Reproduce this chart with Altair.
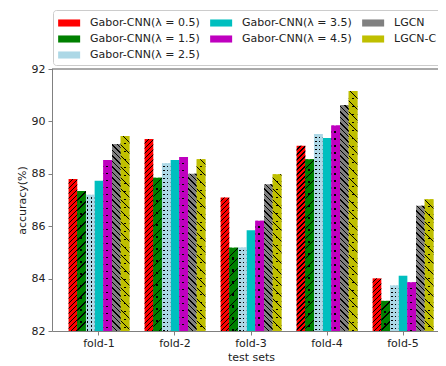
import altair as alt
import pandas as pd

folds = ["fold-1", "fold-2", "fold-3", "fold-4", "fold-5"]
methods = ["Gabor-CNN(λ = 0.5)", "Gabor-CNN(λ = 1.5)", "Gabor-CNN(λ = 2.5)",
           "Gabor-CNN(λ = 3.5)", "Gabor-CNN(λ = 4.5)", "LGCN", "LGCN-C"]
colors = ["#ff0000", "#008000", "#add8e6", "#00bfbf", "#bf00bf", "#808080", "#bfbf00"]

g05 = [87.80, 89.33, 87.10, 89.07, 84.01]
g15 = [87.34, 87.85, 85.18, 88.56, 83.15]
g25 = [87.20, 88.40, 85.19, 89.52, 83.74]
g35 = [87.73, 88.53, 85.85, 89.37, 84.11]
g45 = [88.53, 88.64, 86.21, 89.84, 83.86]
lgcn = [89.14, 88.00, 87.60, 90.63, 86.78]
lgcnc = [89.44, 88.56, 87.98, 91.16, 87.03]

# hatch styles: diagonal stripes (direction, period px) and dots (row period, size, column centres)
stripes = [("/", 5.0), ("/", 10.0), None, None, None, ("\\", 5.5), ("\\", 11.0)]
dots = [None, (12.0, 2.2, [3.8]), (4.0, 1.3, [1.9, 5.7]), None,
        (7.0, 1.4, [3.8]), None, (8.0, 1.4, [4.3])]

FONT = "DejaVu Sans"
W, H = 386, 262
RANGE_W = 398
Y0, Y1 = 82, 92
BAR_W = RANGE_W / (5 - 0.2 + 0.436) * 0.8 / 7
CLEAR = "rgba(0,0,0,0)"


def bar_height(value):
    return max((value - Y0) / (Y1 - Y0) * H, 1.0)


def periodic_stops(period, thick, base, ink):
    stops = []
    k = 0
    while k * period < 1:
        s0 = k * period
        a = min(s0 + period - thick, 1.0)
        b = min(s0 + period, 1.0)
        stops += [{"offset": s0, "color": base}, {"offset": a, "color": base},
                  {"offset": a, "color": ink}, {"offset": b, "color": ink}]
        k += 1
    return stops


def stripe_fill(value, spec):
    if spec is None:
        return CLEAR
    direction, period = spec
    w, h = BAR_W, bar_height(value)
    s_total = w + h
    c = s_total / (w * w + h * h)
    stops = periodic_stops(period / s_total, 1.4 / s_total, CLEAR, "#000000")
    if direction == "/":
        g = {"gradient": "linear", "x1": 0, "y1": 0, "x2": c * w, "y2": c * h}
    else:
        g = {"gradient": "linear", "x1": 0, "y1": 1, "x2": c * w, "y2": 1 - c * h}
    g["stops"] = stops
    return g


def dot_rows(value, spec):
    if spec is None:
        return CLEAR
    period, size, _ = spec
    h = bar_height(value)
    return {"gradient": "linear", "x1": 0, "y1": 0, "x2": 0, "y2": 1,
            "stops": periodic_stops(period / h, size / h, CLEAR, "#000000")}


def dot_mask(spec, color):
    if spec is None:
        return CLEAR
    _, size, centres = spec
    stops = []
    for cx in centres:
        a = max((cx - size / 2) / BAR_W, 0.0)
        b = min((cx + size / 2) / BAR_W, 1.0)
        stops += [{"offset": a, "color": color}, {"offset": a, "color": CLEAR},
                  {"offset": b, "color": CLEAR}, {"offset": b, "color": color}]
    stops = [{"offset": 0, "color": color}] + stops + [{"offset": 1, "color": color}]
    return {"gradient": "linear", "x1": 0, "y1": 0, "x2": 1, "y2": 0, "stops": stops}


# legend entries in row-major order of a 3-column grid (matplotlib fills column-major)
legend_idx = [0, 3, 5, 1, 4, 6, 2]
legend_labels = [methods[i] for i in legend_idx]
legend_range = [colors[i] for i in legend_idx]
rank = {m: legend_idx.index(i) for i, m in enumerate(methods)}

series = [g05, g15, g25, g35, g45, lgcn, lgcnc]
rows = []
for i, (m, vals) in enumerate(zip(methods, series)):
    for f, v in zip(folds, vals):
        rows.append({"fold": f, "method": m, "key": rank[m], "acc": v,
                     "stripes": stripe_fill(v, stripes[i]),
                     "dotrows": dot_rows(v, dots[i]),
                     "dotmask": dot_mask(dots[i], colors[i])})
df = pd.DataFrame(rows)

x_enc = alt.X("fold:N", sort=folds,
              scale=alt.Scale(range=[0, RANGE_W], paddingInner=0.2, paddingOuter=0.218),
              axis=alt.Axis(title="test sets", labelAngle=0, tickSize=4, labelPadding=2,
                            titlePadding=3, domainColor="#808080", tickColor="#808080",
                            titleX=199))
xo_enc = alt.XOffset("method:N", sort=methods,
                     scale=alt.Scale(paddingInner=0, paddingOuter=0))
y_enc = alt.Y("acc:Q", scale=alt.Scale(domain=[Y0, Y1], zero=False, nice=False),
              axis=alt.Axis(title="accuracy(%)", values=[82, 84, 86, 88, 90, 92],
                            tickSize=4, labelPadding=3, titlePadding=4, grid=False,
                            domainColor="#808080", tickColor="#808080"))

label_expr = "[" + ",".join("'" + s + "'" for s in legend_labels) + "][datum.value]"

bars = alt.Chart(df).mark_bar().encode(
    x=x_enc, xOffset=xo_enc, y=y_enc, y2=alt.datum(Y0),
    color=alt.Color("key:O",
                    scale=alt.Scale(domain=list(range(7)), range=legend_range),
                    legend=alt.Legend(title=None, orient="none", legendX=1, legendY=-59,
                                      direction="horizontal",
                                      labelExpr=label_expr,
                                      columns=3, columnPadding=10, rowPadding=3,
                                      symbolType="M-1,-0.45L1.8,-0.45L1.8,0.45L-1,0.45Z",
                                      symbolSize=247, symbolStrokeWidth=0,
                                      labelFontSize=11, labelFont=FONT, labelColor="#222",
                                      labelOffset=16, padding=5,
                                      strokeColor="#cccccc", cornerRadius=3,
                                      fillColor="white")),
)


def overlay(field):
    return alt.Chart(df).mark_bar().encode(
        x=x_enc, xOffset=xo_enc, y=y_enc, y2=alt.datum(Y0),
        fill=alt.Fill(field + ":N", scale=None),
    )


top = alt.Chart(pd.DataFrame({"edge": [Y1]})).mark_rule(
    color="#555555", strokeWidth=1).encode(y=alt.value(0))

chart = alt.layer(top, bars, overlay("dotrows"), overlay("dotmask"),
                  overlay("stripes")).properties(
    width=W, height=H,
    autosize=alt.AutoSizeParams(type="none"),
    padding={"left": 44, "top": 61, "right": 0, "bottom": 33},
).configure_view(stroke=None).configure_axis(
    labelFont=FONT, titleFont=FONT, labelFontSize=11, titleFontSize=11,
    labelColor="#222", titleColor="#222", titleFontWeight="normal",
)

chart.save("out.html", embed_options={"renderer": "svg", "actions": False})
